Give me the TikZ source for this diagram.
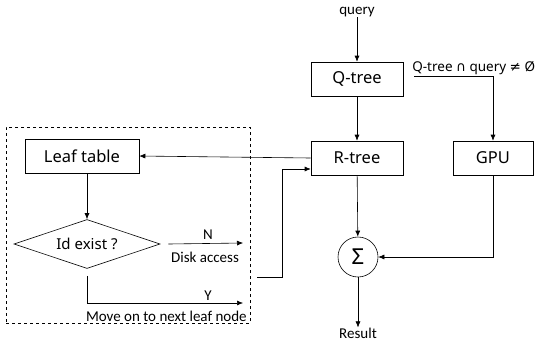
\documentclass[tikz,border=0pt]{standalone}
\usepackage{fontspec}
\setmainfont{Carlito}
\newfontfamily\boxfont{Noto Sans}
\newfontfamily\symfont{DejaVu Sans}
\usetikzlibrary{shapes.geometric,arrows.meta}
\begin{document}
\begin{tikzpicture}[x=1pt,y=-1pt,line width=0.6pt,
  box/.style={draw,minimum width=92pt,minimum height=34pt,inner sep=0pt,font=\boxfont\fontsize{16.5}{16.5}\selectfont},
  lbl/.style={inner sep=0pt,font=\fontsize{15}{15}\selectfont},
  arr/.style={-{Latex[length=6pt,width=5pt]}}]
\useasboundingbox (0,0) rectangle (535,341);
\node[draw,dashed,minimum width=244pt,minimum height=196pt,inner sep=0pt] (group) at (128,225) {};
\node[box] (qtree) at (357,79) {Q-tree};
\node[box] (rtree) at (357,158) {R-tree};
\node[box,minimum width=80pt] (gpu) at (493,158) {GPU};
\node[box,minimum width=114pt] (leaf) at (82,156) {Leaf table};
\node[draw,diamond,aspect=3,minimum width=146pt,minimum height=49pt,inner sep=0pt,font=\boxfont\fontsize{15}{15}\selectfont] (dec) at (87,244) {Id exist ?};
\node[draw,circle,minimum size=40pt,inner sep=0pt,font=\boxfont\fontsize{22}{22}\selectfont] (sum) at (358,257) {Σ};
\node[lbl] (query) at (357,12) {query};
\node[lbl] (result) at (358,333) {Result};
\node[inner sep=0pt,anchor=south west,font=\boxfont\fontsize{13.5}{13.5}\selectfont] (cond) at (412,75) {Q-tree {\symfont∩} query {\symfont≠} Ø};
\node[lbl] (nlab) at (208,235) {N};
\node[lbl] (disk) at (205,257) {Disk access};
\node[lbl] (ylab) at (208,296) {Y};
\node[lbl,anchor=east] (move) at (247,316) {Move on to next leaf node};
\coordinate (nend) at (243,243);
\coordinate (yend) at (243,303);
\coordinate (ret) at (257,277);
\coordinate (rin) at ([yshift=-11pt]rtree.west);
\draw[arr] (query) -- (qtree);
\draw[arr] (qtree) -- (rtree);
\draw[arr] (rtree) -- (sum);
\draw[arr] (sum) -- (result);
\draw[arr] ([xshift=11pt,yshift=3pt]qtree.east) -| (gpu.north);
\draw[arr] (gpu.south) |- (sum.east);
\draw[arr] (rtree.west) -- (leaf.east);
\draw[arr] (leaf.south -| dec.north) -- (dec.north);
\draw[arr] ([xshift=8pt]dec.east) -- (nend);
\draw[arr] ([yshift=-7pt]dec.south) |- (yend);
\draw[arr] (ret) -| ([xshift=-28pt]rin) -- (rin);
\end{tikzpicture}
\end{document}
